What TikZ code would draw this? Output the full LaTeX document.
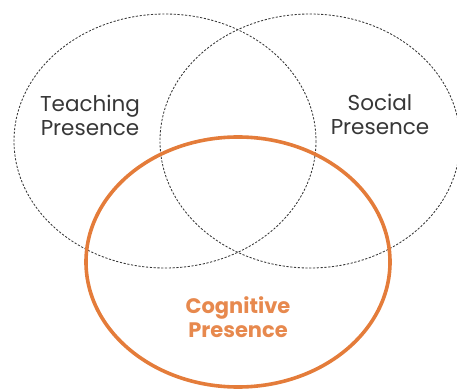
\documentclass[tikz,border=0pt]{standalone}
\usepackage{fontspec}
\setmainfont{Poppins}
\definecolor{orng}{RGB}{228,124,58}
\definecolor{dgray}{RGB}{55,55,55}
\begin{document}
\begin{tikzpicture}[x=1pt,y=-1pt,
  dashring/.style={draw=dgray, line width=0.85pt, dash pattern=on 2.2pt off 1.6pt},
  orring/.style={draw=orng, line width=3.6pt},
  lbl/.style={align=center, font=\fontsize{21.5}{24}\selectfont, text=dgray, inner sep=0pt},
  olbl/.style={align=center, font=\fontsize{21}{24}\selectfont\bfseries, text=orng!90!white, inner sep=0pt}]
\useasboundingbox (0,0) rectangle (457,390);
\draw[dashring] (165,141) ellipse [x radius=151, y radius=127];
\draw[dashring] (310,141) ellipse [x radius=150, y radius=127];
\draw[orring] (238,262) ellipse [x radius=152, y radius=125];
\node[lbl] (teach) at (90,115) {Teaching\\Presence};
\node[lbl] (social) at (380,114) {Social\\Presence};
\node[olbl] (cog) at (238,317) {Cognitive\\Presence};
\end{tikzpicture}
\end{document}
